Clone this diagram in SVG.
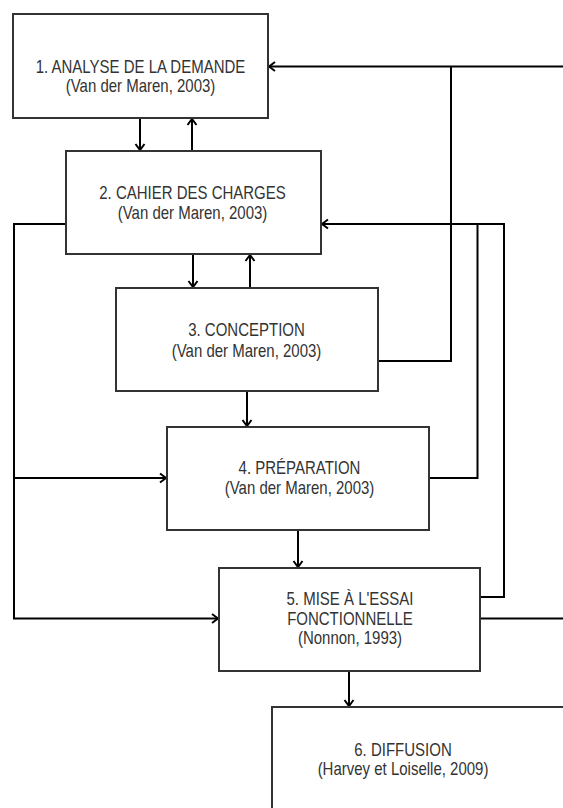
<svg xmlns="http://www.w3.org/2000/svg" width="563" height="808" viewBox="0 0 563 808">
  <style>
    .box { fill: #ffffff; stroke: #333333; stroke-width: 2; }
    .lbl { font-family: "Liberation Sans", Arial, sans-serif; font-size: 15px; fill: #333333; text-anchor: middle; }
    .wire { fill: none; stroke: #000000; stroke-width: 2; }
    .arrow { marker-end: url(#head); }
  </style>
  <defs>
    <marker id="head" viewBox="-9 -6 11 12" refX="0" refY="0" markerWidth="11" markerHeight="12" markerUnits="userSpaceOnUse" orient="auto">
      <path d="M-6,-4.5 L0,0 L-6,4.5" fill="none" stroke="#000000" stroke-width="2"/>
    </marker>
  </defs>

  <rect width="563" height="808" fill="#ffffff"/>

  <!-- connectors -->
  <g id="connectors">
    <path class="wire arrow" d="M140,118 V150"/>
    <path class="wire arrow" d="M192,151 V119"/>
    <path class="wire arrow" d="M193,254 V287"/>
    <path class="wire arrow" d="M250,288 V255"/>
    <path class="wire arrow" d="M247,391 V426"/>
    <path class="wire arrow" d="M298,530 V567"/>
    <path class="wire arrow" d="M349,671 V706"/>
    <path class="wire arrow" d="M563,66.5 H269"/>
    <path class="wire" d="M378,361 H451 V66.5"/>
    <path class="wire" d="M429,478 H477.5 V224"/>
    <path class="wire arrow" d="M480,597 H504 V224 H322"/>
    <path class="wire" d="M480,618.5 H563"/>
    <path class="wire arrow" d="M66,224 H14 V618.5 H218"/>
    <path class="wire arrow" d="M14,478 H166"/>
  </g>

  <!-- step 1 -->
  <g id="step1">
    <rect class="box" x="13" y="14" width="255" height="104"/>
    <text class="lbl" transform="translate(140.5,72.5) scale(1,1.18)">1. ANALYSE DE LA DEMANDE</text>
    <text class="lbl" transform="translate(140.5,91.5) scale(1,1.18)">(Van der Maren, 2003)</text>
  </g>

  <!-- step 2 -->
  <g id="step2">
    <rect class="box" x="66" y="151" width="255" height="103"/>
    <text class="lbl" transform="translate(192.5,199.3) scale(1,1.18)">2. CAHIER DES CHARGES</text>
    <text class="lbl" transform="translate(192.5,219.3) scale(1,1.18)">(Van der Maren, 2003)</text>
  </g>

  <!-- step 3 -->
  <g id="step3">
    <rect class="box" x="116" y="288" width="262" height="103"/>
    <text class="lbl" transform="translate(246.5,336) scale(1,1.18)">3. CONCEPTION</text>
    <text class="lbl" transform="translate(246.5,356.5) scale(1,1.18)">(Van der Maren, 2003)</text>
  </g>

  <!-- step 4 -->
  <g id="step4">
    <rect class="box" x="167" y="427" width="262" height="103"/>
    <text class="lbl" transform="translate(299.5,474) scale(1,1.18)">4. PRÉPARATION</text>
    <text class="lbl" transform="translate(299.5,494) scale(1,1.18)">(Van der Maren, 2003)</text>
  </g>

  <!-- step 5 -->
  <g id="step5">
    <rect class="box" x="219" y="568" width="261" height="103"/>
    <text class="lbl" transform="translate(350,605.3) scale(1,1.18)">5. MISE À L'ESSAI</text>
    <text class="lbl" transform="translate(350,625) scale(1,1.18)">FONCTIONNELLE</text>
    <text class="lbl" transform="translate(350,644) scale(1,1.18)">(Nonnon, 1993)</text>
  </g>

  <!-- step 6 -->
  <g id="step6">
    <rect class="box" x="272" y="707" width="320" height="130"/>
    <text class="lbl" transform="translate(403,756) scale(1,1.18)">6. DIFFUSION</text>
    <text class="lbl" transform="translate(403,775) scale(1,1.18)">(Harvey et Loiselle, 2009)</text>
  </g>
</svg>
